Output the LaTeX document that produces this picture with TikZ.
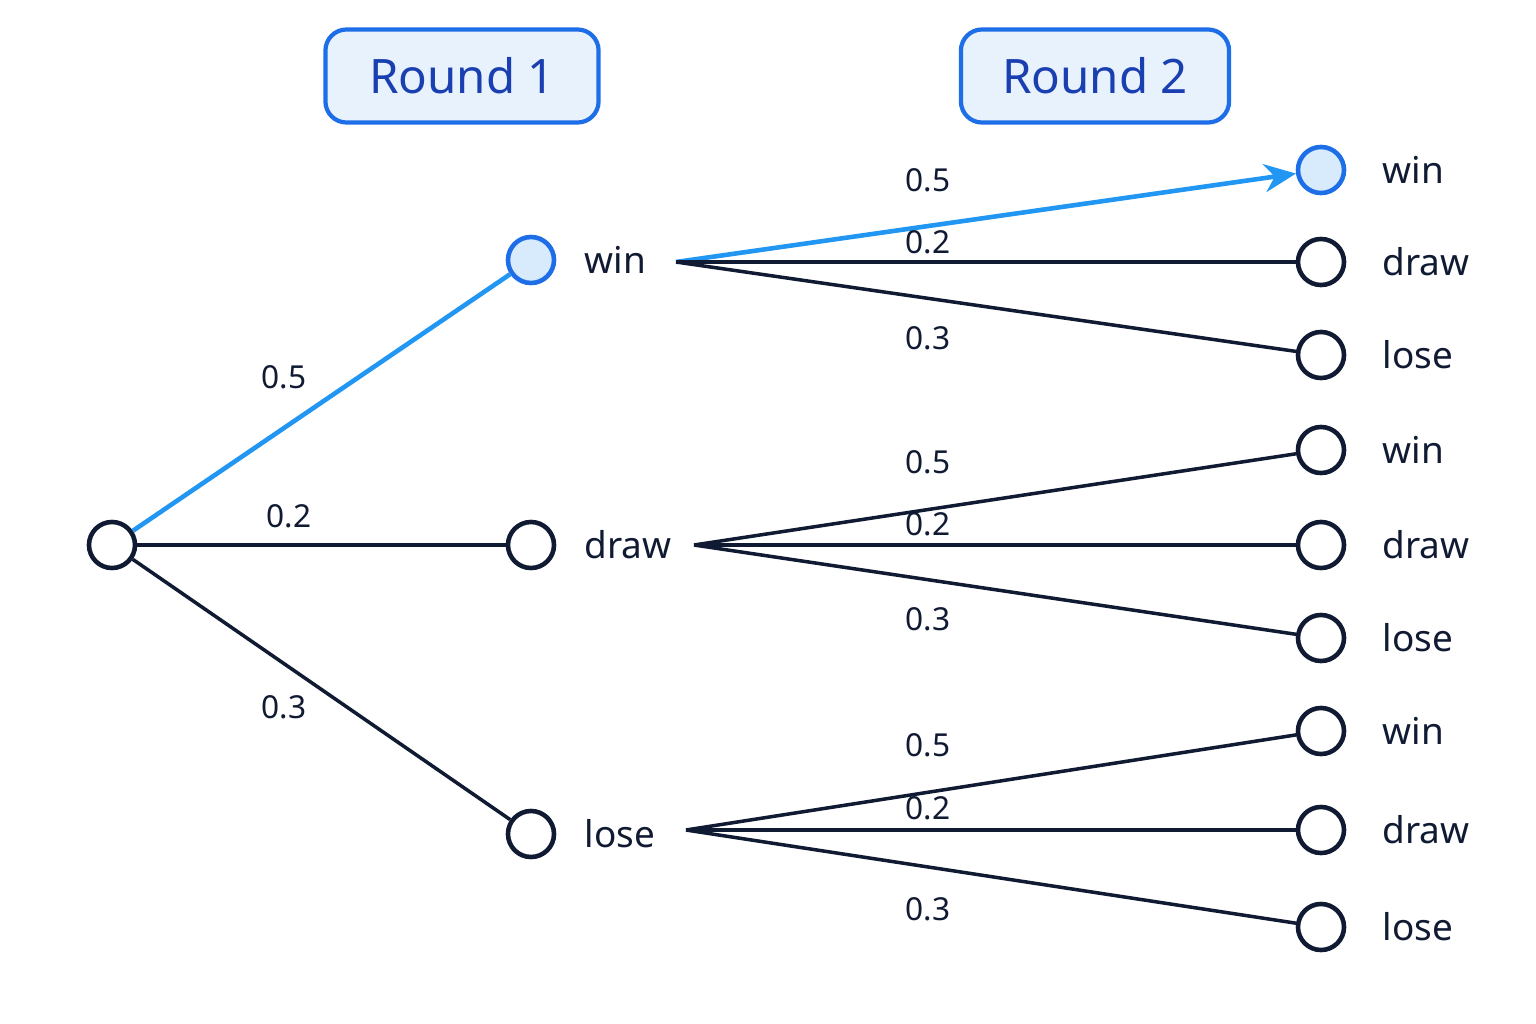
\documentclass[tikz,border=0pt]{standalone}
\usepackage{fontspec}
\setmainfont{Noto Sans}
\usetikzlibrary{arrows.meta}
\definecolor{ink}{HTML}{111A33}
\definecolor{hl}{HTML}{2196F3}
\definecolor{hlb}{HTML}{1E6EE8}
\definecolor{hlf}{HTML}{D8EBFC}
\definecolor{boxf}{HTML}{E8F2FD}
\definecolor{boxt}{HTML}{1A3FB0}
\begin{document}
\begin{tikzpicture}[x=0.01cm,y=-0.01cm,
  st/.style={circle,draw=ink,line width=1.3pt,minimum size=0.46cm,inner sep=0pt,fill=white},
  sel/.style={st,draw=hlb,fill=hlf},
  lab/.style={anchor=west,font=\fontsize{10.5}{12}\selectfont,text=ink,inner sep=0pt},
  pr/.style={font=\fontsize{9}{11}\selectfont,text=ink},
  edge/.style={draw=ink,line width=1pt},
  hedge/.style={draw=hl,line width=1.3pt},
  rnd/.style={draw=hlb,fill=boxf,rounded corners=6pt,line width=1.2pt,text=boxt,font=\fontsize{13.5}{15}\selectfont\bfseries,minimum height=0.93cm}]
\useasboundingbox[fill=white] (0,0) rectangle (1536,1024);
\node[rnd,minimum width=2.73cm] (r1) at (462,76) {Round 1};
\node[rnd,minimum width=2.68cm] (r2) at (1095,76) {Round 2};
\node[st] (root) at (112,545) {};
\node[sel] (w) at (531,260) {};
\node[st] (d) at (531,545) {};
\node[st] (l) at (531,834) {};
\node[lab] (tw) at (584,260) {win};
\node[lab] (td) at (584,545) {draw};
\node[lab] (tl) at (584,834) {lose};
\coordinate (sw) at (676,262);
\coordinate (sd) at (694,545);
\coordinate (sl) at (686,830);
\draw[hedge] (root) -- (w);
\draw[edge] (root) -- (d);
\draw[edge] (root) -- (l);
\node[pr] (p1) at (284,377) {0.5};
\node[pr] (p2) at (289,516) {0.2};
\node[pr] (p3) at (284,707) {0.3};
\foreach \n/\y/\t/\s in {ww/170/win/sel, wd/262/draw/st, wl/355/lose/st,
  dw/450/win/st, dd/545/draw/st, dl/638/lose/st,
  lw/731/win/st, ld/830/draw/st, ll/927/lose/st}{
  \node[\s] (\n) at (1321,\y) {};
  \node[lab] (t\n) at (1382,\y) {\t};
}
\draw[hedge,-{Stealth[length=9pt,width=8pt]}] (sw) -- (ww);
\draw[edge] (sw) -- (wd);
\draw[edge] (sw) -- (wl);
\draw[edge] (sd) -- (dw);
\draw[edge] (sd) -- (dd);
\draw[edge] (sd) -- (dl);
\draw[edge] (sl) -- (lw);
\draw[edge] (sl) -- (ld);
\draw[edge] (sl) -- (ll);
\node[pr] (q1) at (928,180) {0.5};
\node[pr] (q2) at (928,242) {0.2};
\node[pr] (q3) at (928,338) {0.3};
\node[pr] (q4) at (928,462) {0.5};
\node[pr] (q5) at (928,524) {0.2};
\node[pr] (q6) at (928,619) {0.3};
\node[pr] (q7) at (928,745) {0.5};
\node[pr] (q8) at (928,808) {0.2};
\node[pr] (q9) at (928,909) {0.3};
\end{tikzpicture}
\end{document}
